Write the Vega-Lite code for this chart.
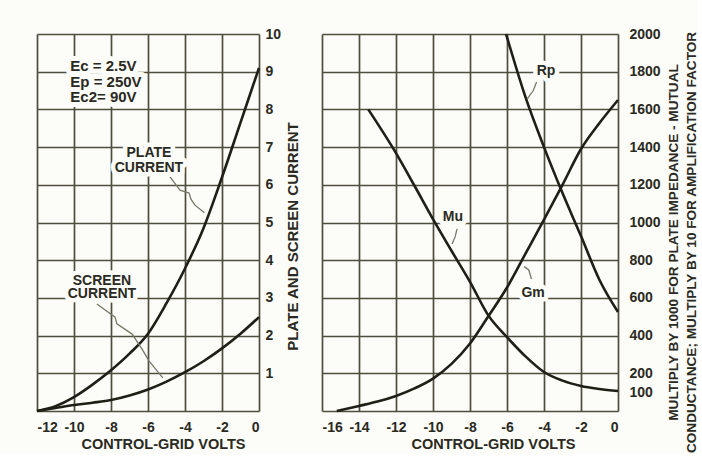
{
  "$schema": "https://vega.github.io/schema/vega-lite/v6.json",
  "background": "#fcfcf8",
  "padding": {"left": 31, "top": 27, "right": 0, "bottom": 0},
  "bounds": "flush",
  "spacing": 63,
  "config": {
    "view": {"stroke": null},
    "font": "Liberation Sans",
    "axis": {
      "labelFont": "Liberation Sans",
      "labelFontWeight": "bold",
      "labelFontSize": 14,
      "labelColor": "#2a2a22",
      "labelOverlap": false,
      "tickCount": 50,
      "titleFont": "Liberation Sans",
      "titleFontWeight": "bold",
      "titleColor": "#2a2a22",
      "gridColor": "#4e4e3e",
      "gridWidth": 1.7,
      "gridOpacity": 1,
      "domain": false,
      "ticks": false,
      "tickSize": 0
    }
  },
  "datasets": {
    "currents": [
      {"series": "plate", "grid_volts": -12, "current": 0},
      {"series": "plate", "grid_volts": -11, "current": 0.13},
      {"series": "plate", "grid_volts": -10, "current": 0.37},
      {"series": "plate", "grid_volts": -9, "current": 0.7},
      {"series": "plate", "grid_volts": -8, "current": 1.08},
      {"series": "plate", "grid_volts": -7, "current": 1.52},
      {"series": "plate", "grid_volts": -6, "current": 2.05},
      {"series": "plate", "grid_volts": -5, "current": 2.86},
      {"series": "plate", "grid_volts": -4, "current": 3.78},
      {"series": "plate", "grid_volts": -3, "current": 4.85},
      {"series": "plate", "grid_volts": -2, "current": 6.2},
      {"series": "plate", "grid_volts": -1, "current": 7.65},
      {"series": "plate", "grid_volts": 0, "current": 9.1},
      {"series": "screen", "grid_volts": -12, "current": 0},
      {"series": "screen", "grid_volts": -11, "current": 0.08},
      {"series": "screen", "grid_volts": -10, "current": 0.16},
      {"series": "screen", "grid_volts": -9, "current": 0.22},
      {"series": "screen", "grid_volts": -8, "current": 0.29},
      {"series": "screen", "grid_volts": -7, "current": 0.41},
      {"series": "screen", "grid_volts": -6, "current": 0.57},
      {"series": "screen", "grid_volts": -5, "current": 0.78},
      {"series": "screen", "grid_volts": -4, "current": 1.03},
      {"series": "screen", "grid_volts": -3, "current": 1.32},
      {"series": "screen", "grid_volts": -2, "current": 1.66},
      {"series": "screen", "grid_volts": -1, "current": 2.05},
      {"series": "screen", "grid_volts": 0, "current": 2.49}
    ],
    "conditions": [
      {"text": "Ec = 2.5V", "grid_volts": -10.2, "current": 9.15},
      {"text": "Ep = 250V", "grid_volts": -10.2, "current": 8.74},
      {"text": "Ec2= 90V", "grid_volts": -10.2, "current": 8.33}
    ],
    "currentNotes": [
      {"text": "PLATE", "grid_volts": -5.95, "current": 6.84},
      {"text": "CURRENT", "grid_volts": -5.95, "current": 6.45},
      {"text": "SCREEN", "grid_volts": -8.49, "current": 3.45},
      {"text": "CURRENT", "grid_volts": -8.49, "current": 3.1}
    ],
    "currentLeaders": [
      {"leader": "plate", "step": 1, "grid_volts": -4.81, "current": 6.21},
      {"leader": "plate", "step": 2, "grid_volts": -4.27, "current": 5.86},
      {"leader": "plate", "step": 3, "grid_volts": -3.78, "current": 5.78},
      {"leader": "plate", "step": 4, "grid_volts": -3.68, "current": 5.62},
      {"leader": "plate", "step": 5, "grid_volts": -3.46, "current": 5.46},
      {"leader": "plate", "step": 6, "grid_volts": -2.95, "current": 5.26},
      {"leader": "screen", "step": 1, "grid_volts": -8.76, "current": 2.84},
      {"leader": "screen", "step": 2, "grid_volts": -7.78, "current": 2.49},
      {"leader": "screen", "step": 3, "grid_volts": -7.68, "current": 2.31},
      {"leader": "screen", "step": 4, "grid_volts": -6.86, "current": 2.04},
      {"leader": "screen", "step": 5, "grid_volts": -6.32, "current": 1.64},
      {"leader": "screen", "step": 6, "grid_volts": -5.95, "current": 1.33},
      {"leader": "screen", "step": 7, "grid_volts": -5.2, "current": 0.88}
    ],
    "factors": [
      {"series": "Mu", "grid_volts": -13.5, "value": 1600},
      {"series": "Mu", "grid_volts": -12, "value": 1368},
      {"series": "Mu", "grid_volts": -11, "value": 1195},
      {"series": "Mu", "grid_volts": -10, "value": 1018},
      {"series": "Mu", "grid_volts": -9, "value": 850},
      {"series": "Mu", "grid_volts": -8, "value": 685},
      {"series": "Mu", "grid_volts": -7, "value": 506},
      {"series": "Mu", "grid_volts": -6, "value": 392},
      {"series": "Mu", "grid_volts": -5, "value": 290},
      {"series": "Mu", "grid_volts": -4, "value": 207},
      {"series": "Mu", "grid_volts": -3, "value": 161},
      {"series": "Mu", "grid_volts": -2, "value": 133},
      {"series": "Mu", "grid_volts": -1, "value": 117},
      {"series": "Mu", "grid_volts": 0, "value": 106},
      {"series": "Gm", "grid_volts": -15.2, "value": 0},
      {"series": "Gm", "grid_volts": -14, "value": 27},
      {"series": "Gm", "grid_volts": -13, "value": 50},
      {"series": "Gm", "grid_volts": -12, "value": 80},
      {"series": "Gm", "grid_volts": -11, "value": 120},
      {"series": "Gm", "grid_volts": -10, "value": 172},
      {"series": "Gm", "grid_volts": -9, "value": 250},
      {"series": "Gm", "grid_volts": -8, "value": 358},
      {"series": "Gm", "grid_volts": -7, "value": 504},
      {"series": "Gm", "grid_volts": -6, "value": 655},
      {"series": "Gm", "grid_volts": -5, "value": 835},
      {"series": "Gm", "grid_volts": -4, "value": 1015},
      {"series": "Gm", "grid_volts": -3, "value": 1200},
      {"series": "Gm", "grid_volts": -2, "value": 1390},
      {"series": "Gm", "grid_volts": -1, "value": 1528},
      {"series": "Gm", "grid_volts": 0, "value": 1650},
      {"series": "Rp", "grid_volts": -6.05, "value": 2000},
      {"series": "Rp", "grid_volts": -5, "value": 1665},
      {"series": "Rp", "grid_volts": -4, "value": 1400},
      {"series": "Rp", "grid_volts": -3, "value": 1156},
      {"series": "Rp", "grid_volts": -2, "value": 928},
      {"series": "Rp", "grid_volts": -1, "value": 695},
      {"series": "Rp", "grid_volts": 0, "value": 525}
    ],
    "factorNotes": [
      {"text": "Rp", "grid_volts": -3.89, "value": 1804},
      {"text": "Mu", "grid_volts": -8.92, "value": 1029},
      {"text": "Gm", "grid_volts": -4.59, "value": 626}
    ],
    "factorLeaders": [
      {"leader": "Rp", "step": 1, "grid_volts": -4.4, "value": 1745},
      {"leader": "Rp", "step": 2, "grid_volts": -4.58, "value": 1700},
      {"leader": "Rp", "step": 3, "grid_volts": -4.92, "value": 1655},
      {"leader": "Mu", "step": 1, "grid_volts": -8.7, "value": 966},
      {"leader": "Mu", "step": 2, "grid_volts": -8.8, "value": 925},
      {"leader": "Mu", "step": 3, "grid_volts": -8.97, "value": 886},
      {"leader": "Gm", "step": 1, "grid_volts": -4.68, "value": 700},
      {"leader": "Gm", "step": 2, "grid_volts": -4.82, "value": 748},
      {"leader": "Gm", "step": 3, "grid_volts": -5.08, "value": 766}
    ]
  },
  "hconcat": [
    {
      "width": 222,
      "height": 377,
      "layer": [
        {
          "data": {"name": "currents"},
          "mark": {"type": "line", "interpolate": "monotone", "color": "#1f1f18", "strokeWidth": 2.6},
          "encoding": {
            "x": {
              "field": "grid_volts", "type": "quantitative",
              "scale": {"domain": [-12, 0], "nice": false},
              "axis": {
                "orient": "bottom",
                "values": [-12, -10, -8, -6, -4, -2, 0],
                "labelExpr": "toString(datum.value)",
                "labelPadding": 9,
                "title": "CONTROL-GRID VOLTS",
                "titleFontSize": 14.5,
                "titleX": 126,
                "titleY": 33,
                "titleBaseline": "middle",
                "titleAlign": "center"
              }
            },
            "y": {
              "field": "current", "type": "quantitative",
              "scale": {"domain": [0, 10], "nice": false},
              "axis": {
                "orient": "right",
                "values": [0, 1, 2, 3, 4, 5, 6, 7, 8, 9, 10],
                "labelExpr": "datum.value == 0 ? '' : toString(datum.value)",
                "labelPadding": 6,
                "title": "PLATE AND SCREEN CURRENT",
                "titleFontSize": 15,
                "titleAngle": 270,
                "titleX": 33,
                "titleY": 202,
                "titleAlign": "center",
                "titleBaseline": "middle"
              }
            },
            "detail": {"field": "series"}
          }
        },
        {
          "data": {"name": "currentLeaders"},
          "mark": {"type": "line", "color": "#77776a", "strokeWidth": 1.3},
          "encoding": {
            "x": {"field": "grid_volts", "type": "quantitative"},
            "y": {"field": "current", "type": "quantitative"},
            "order": {"field": "step"},
            "detail": {"field": "leader"}
          }
        },
        {
          "data": {"name": "conditions"},
          "mark": {"type": "text", "font": "Liberation Sans", "fontWeight": "bold", "fontSize": 15, "baseline": "middle", "align": "left", "stroke": "#fcfcf8", "strokeWidth": 10, "strokeJoin": "round", "color": "#fcfcf8"},
          "encoding": {
            "x": {"field": "grid_volts", "type": "quantitative"},
            "y": {"field": "current", "type": "quantitative"},
            "text": {"field": "text"}
          }
        },
        {
          "data": {"name": "currentNotes"},
          "mark": {"type": "text", "font": "Liberation Sans", "fontWeight": "bold", "fontSize": 14, "baseline": "middle", "align": "center", "stroke": "#fcfcf8", "strokeWidth": 9, "strokeJoin": "round", "color": "#fcfcf8"},
          "encoding": {
            "x": {"field": "grid_volts", "type": "quantitative"},
            "y": {"field": "current", "type": "quantitative"},
            "text": {"field": "text"}
          }
        },
        {
          "data": {"name": "conditions"},
          "mark": {"type": "text", "font": "Liberation Sans", "fontWeight": "bold", "fontSize": 15, "baseline": "middle", "align": "left", "color": "#2a2a22"},
          "encoding": {
            "x": {"field": "grid_volts", "type": "quantitative"},
            "y": {"field": "current", "type": "quantitative"},
            "text": {"field": "text"}
          }
        },
        {
          "data": {"name": "currentNotes"},
          "mark": {"type": "text", "font": "Liberation Sans", "fontWeight": "bold", "fontSize": 14, "baseline": "middle", "align": "center", "color": "#2a2a22"},
          "encoding": {
            "x": {"field": "grid_volts", "type": "quantitative"},
            "y": {"field": "current", "type": "quantitative"},
            "text": {"field": "text"}
          }
        }
      ]
    },
    {
      "width": 296,
      "height": 377,
      "layer": [
        {
          "data": {"name": "factors"},
          "mark": {"type": "line", "interpolate": "monotone", "color": "#1f1f18", "strokeWidth": 2.6},
          "encoding": {
            "x": {
              "field": "grid_volts", "type": "quantitative",
              "scale": {"domain": [-16, 0], "nice": false},
              "axis": {
                "orient": "bottom",
                "values": [-16, -14, -12, -10, -8, -6, -4, -2, 0],
                "labelExpr": "toString(datum.value)",
                "labelPadding": 9,
                "title": "CONTROL-GRID VOLTS",
                "titleFontSize": 14.5,
                "titleX": 171,
                "titleY": 33,
                "titleBaseline": "middle",
                "titleAlign": "center"
              }
            },
            "y": {
              "field": "value", "type": "quantitative",
              "scale": {"domain": [0, 2000], "nice": false},
              "axis": {
                "orient": "right",
                "values": [0, 100, 200, 400, 600, 800, 1000, 1200, 1400, 1600, 1800, 2000],
                "format": "d",
                "labelExpr": "datum.value == 0 ? '' : datum.label",
                "labelPadding": 11,
                "gridOpacity": {"condition": {"test": "datum.value == 100", "value": 0}, "value": 1},
                "title": ["MULTIPLY BY 1000 FOR PLATE IMPEDANCE - MUTUAL", "CONDUCTANCE; MULTIPLY BY 10 FOR AMPLIFICATION FACTOR"],
                "titleFontSize": 13.6,
                "titleLineHeight": 18,
                "titleAngle": 270,
                "titleX": 55,
                "titleY": 208,
                "titleAlign": "center",
                "titleBaseline": "middle"
              }
            },
            "detail": {"field": "series"}
          }
        },
        {
          "data": {"name": "factorLeaders"},
          "mark": {"type": "line", "color": "#77776a", "strokeWidth": 1.3},
          "encoding": {
            "x": {"field": "grid_volts", "type": "quantitative"},
            "y": {"field": "value", "type": "quantitative"},
            "order": {"field": "step"},
            "detail": {"field": "leader"}
          }
        },
        {
          "data": {"name": "factorNotes"},
          "mark": {"type": "text", "font": "Liberation Sans", "fontWeight": "bold", "fontSize": 14, "baseline": "middle", "align": "center", "stroke": "#fcfcf8", "strokeWidth": 9, "strokeJoin": "round", "color": "#fcfcf8"},
          "encoding": {
            "x": {"field": "grid_volts", "type": "quantitative"},
            "y": {"field": "value", "type": "quantitative"},
            "text": {"field": "text"}
          }
        },
        {
          "data": {"name": "factorNotes"},
          "mark": {"type": "text", "font": "Liberation Sans", "fontWeight": "bold", "fontSize": 14, "baseline": "middle", "align": "center", "color": "#2a2a22"},
          "encoding": {
            "x": {"field": "grid_volts", "type": "quantitative"},
            "y": {"field": "value", "type": "quantitative"},
            "text": {"field": "text"}
          }
        }
      ]
    }
  ]
}
